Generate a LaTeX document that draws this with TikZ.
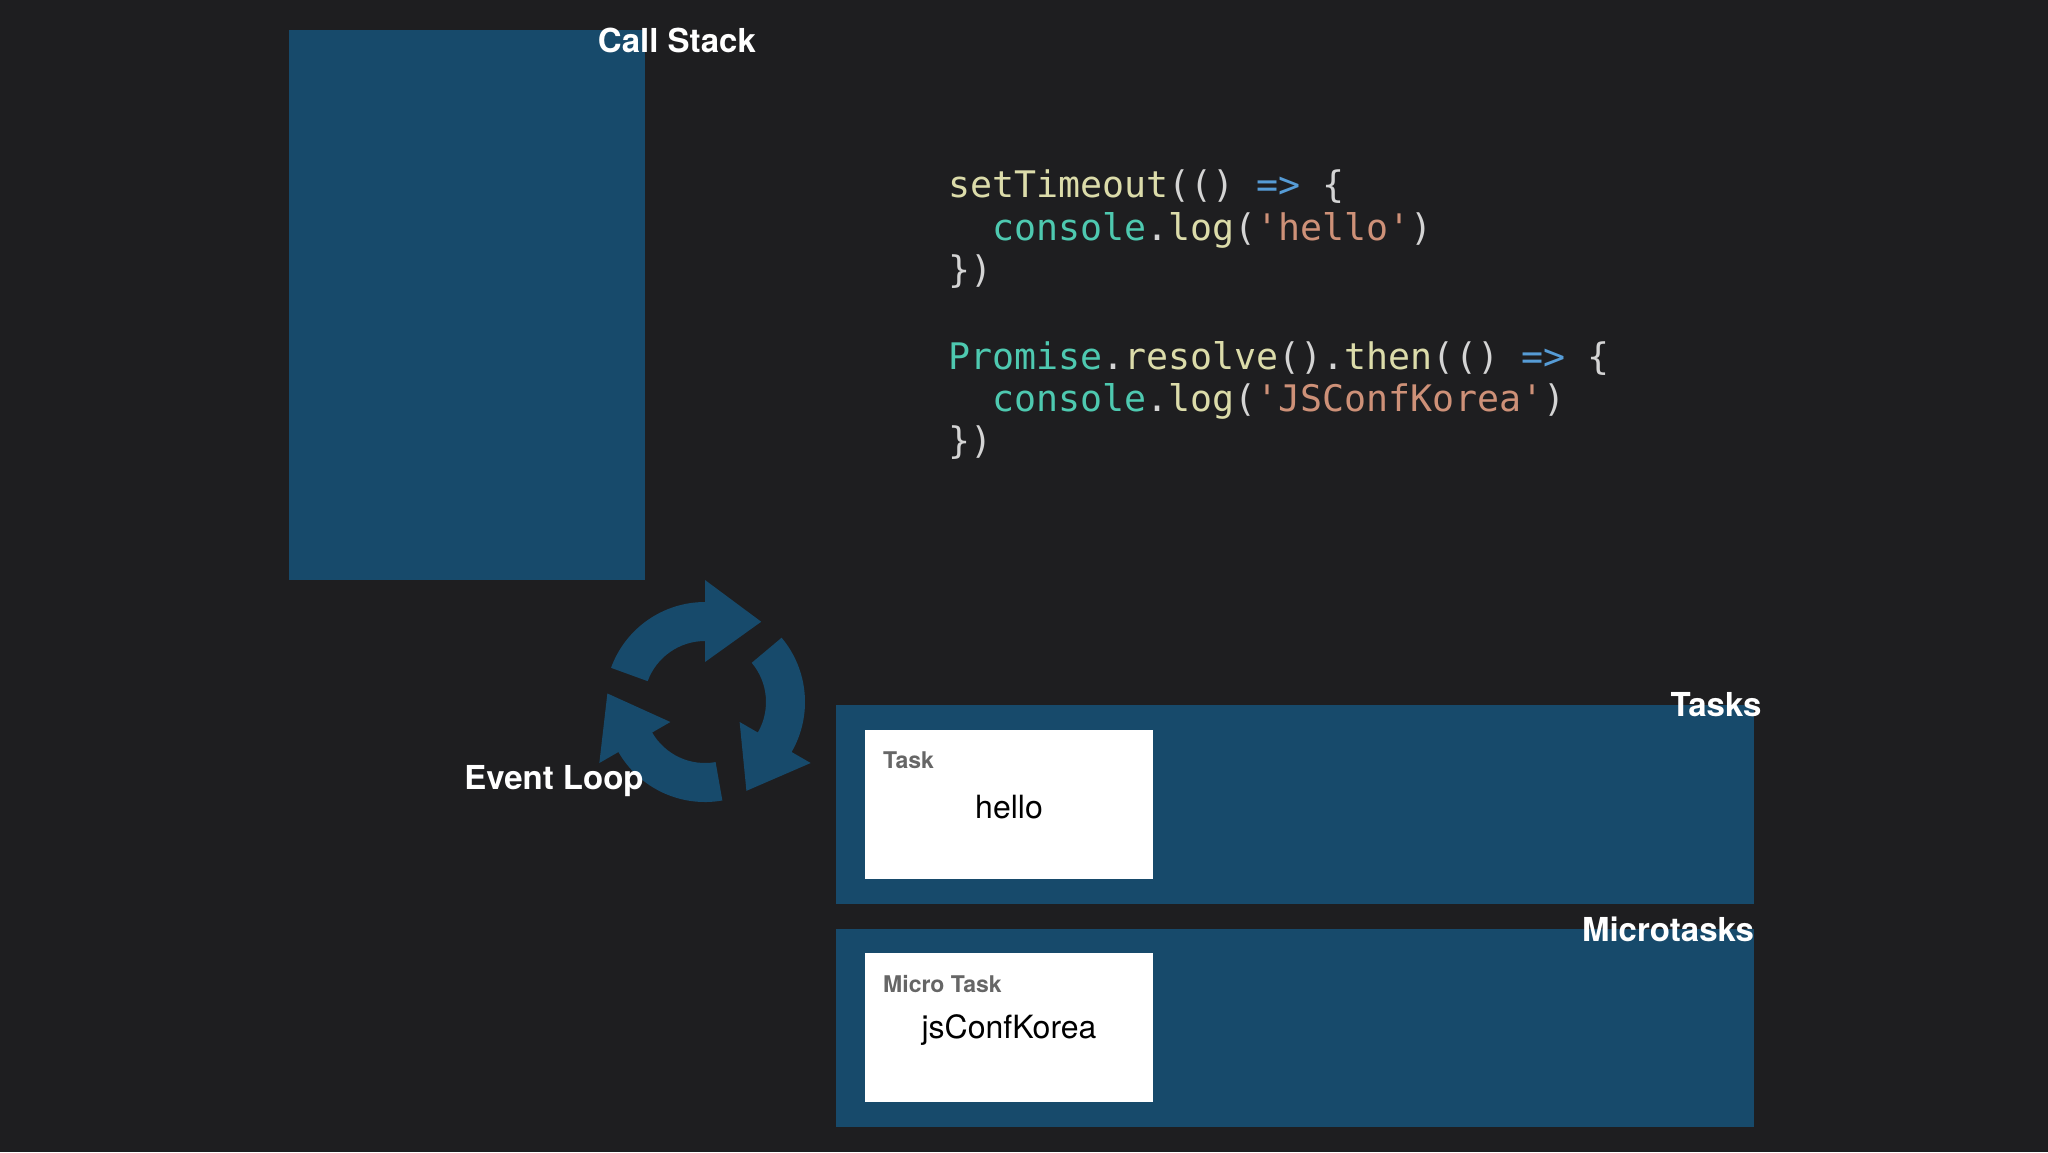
\documentclass[tikz,border=0pt]{standalone}
\usepackage{fontspec}
\setmainfont{TeX Gyre Heros}
\newfontfamily\codefont{DejaVu Sans Mono}
\definecolor{bg}{HTML}{1E1E20}
\definecolor{panel}{HTML}{174A6B}
\definecolor{cfn}{HTML}{DCDCAA}
\definecolor{ckw}{HTML}{569CD6}
\definecolor{cpl}{HTML}{D4D4D4}
\definecolor{cty}{HTML}{4EC9B0}
\definecolor{cst}{HTML}{CE9178}
\definecolor{lbl}{HTML}{666666}
\tikzset{
 title/.style={text=white,font=\fontsize{33}{36}\selectfont\bfseries,inner sep=0pt},
 codeline/.style={anchor=west,inner sep=0pt,font=\codefont\fontsize{36.6}{40}\selectfont,text=cpl},
 whitebox/.style={fill=white,draw=none},
 small/.style={text=lbl,font=\fontsize{23}{26}\selectfont\bfseries,anchor=west,inner sep=0pt},
 big/.style={text=black,font=\fontsize{32}{36}\selectfont,inner sep=0pt},
 seg/.style={fill=panel,draw=none}
}
\begin{document}
\begin{tikzpicture}[x=1pt,y=-1pt]
\fill[bg] (0,0) rectangle (2048,1152);
\useasboundingbox (0,0) rectangle (2048,1152);
\fill[panel] (289,30) rectangle (645,580);
\node[title] (cs) at (677,40) {Call Stack};
\node[codeline] (c1) at (948,187) {\textcolor{cfn}{setTimeout}(() \textcolor{ckw}{=>} \{};
\node[codeline] (c2) at (948,230) {\ \ \textcolor{cty}{console}.\textcolor{cfn}{log}(\textcolor{cst}{'hello'})};
\node[codeline] (c3) at (948,272) {\})};
\node[codeline] (c4) at (948,358) {\textcolor{cty}{Promise}.\textcolor{cfn}{resolve}().\textcolor{cfn}{then}(() \textcolor{ckw}{=>} \{};
\node[codeline] (c5) at (948,401) {\ \ \textcolor{cty}{console}.\textcolor{cfn}{log}(\textcolor{cst}{'JSConfKorea'})};
\node[codeline] (c6) at (948,443) {\})};
\begin{scope}[shift={(705,702)},yscale=-1]
\foreach \a in {160,40,-80}{
 \fill[seg] (\a:100) arc[start angle=\a,end angle=\a-70,radius=100] -- (\a-70:122) -- (\a-105:98) -- (\a-70:40) -- (\a-70:61) arc[start angle=\a-70,end angle=\a,radius=61] -- cycle;
}
\end{scope}
\node[title] (el) at (554,781) {Event Loop};
\fill[panel] (836,705) rectangle (1754,904);
\node[title] (tk) at (1716,705) {Tasks};
\fill[whitebox] (865,730) rectangle (1153,879);
\node[small] (tl) at (883,760) {Task};
\node[big] (th) at (1009,807) {hello};
\fill[panel] (836,929) rectangle (1754,1127);
\node[title] (mt) at (1668,929) {Microtasks};
\fill[whitebox] (865,953) rectangle (1153,1102);
\node[small] (ml) at (883,984) {Micro Task};
\node[big] (mh) at (1009,1030) {jsConfKorea};
\end{tikzpicture}
\end{document}
